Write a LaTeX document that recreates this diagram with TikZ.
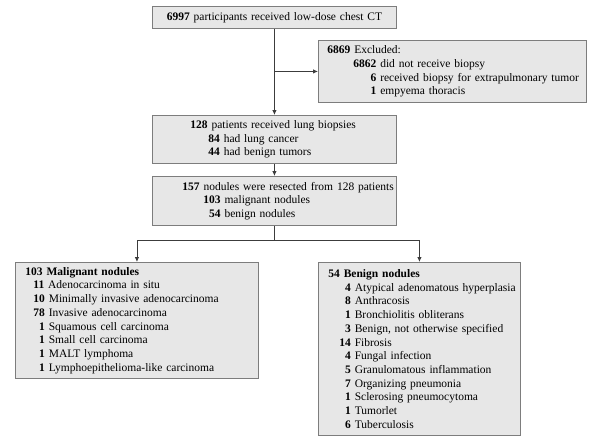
\documentclass[tikz,border=0pt]{standalone}
\usepackage{fontspec}
\setmainfont{Liberation Serif}
\usetikzlibrary{arrows.meta}
\definecolor{boxfill}{RGB}{231,231,231}
\definecolor{boxline}{RGB}{125,125,125}
\definecolor{conn}{RGB}{60,60,60}
\newcommand{\rowl}[2]{\mbox{\hspace*{#1}#2}}
\newcommand{\dg}{\hphantom{\textbf{0}}}
\begin{document}
\begin{tikzpicture}[x=1pt,y=-1pt,
  flowbox/.style={draw=boxline, fill=boxfill, line width=0.9pt, inner sep=0pt,
    align=left, font=\fontsize{11.5}{13.7}\selectfont, anchor=north west},
  conline/.style={draw=conn, line width=0.8pt},
  arr/.style={conline, -{Latex[length=5pt,width=4.5pt]}}]
\useasboundingbox (0,0) rectangle (595,445);

\node[flowbox, align=center, text width=244pt, minimum height=22pt] (top) at (152,6)
  {\textbf{6997} participants received low-dose chest CT};

\node[flowbox, text width=268pt, minimum height=62pt] (excl) at (318,40)
  {\rowl{9pt}{\textbf{6869} Excluded:}\\
   \rowl{35pt}{\textbf{6862} did not receive biopsy}\\
   \rowl{35pt}{\dg\dg\dg\textbf{6} received biopsy for extrapulmonary tumor}\\
   \rowl{35pt}{\dg\dg\dg\textbf{1} empyema thoracis}};

\node[flowbox, text width=244pt, minimum height=48pt] (b128) at (152,115)
  {\rowl{38pt}{\textbf{128} patients received lung biopsies}\\
   \rowl{56pt}{\textbf{84} had lung cancer}\\
   \rowl{56pt}{\textbf{44} had benign tumors}};

\node[flowbox, text width=244pt, minimum height=49pt] (b157) at (152,176)
  {\rowl{30pt}{\textbf{157} nodules were resected from 128 patients}\\
   \rowl{51pt}{\textbf{103} malignant nodules}\\
   \rowl{51pt}{\dg\textbf{54} benign nodules}};

\node[flowbox, text width=243pt, minimum height=116pt] (mal) at (15,262)
  {\rowl{10pt}{\textbf{103 Malignant nodules}}\\
   \rowl{18pt}{\textbf{11} Adenocarcinoma in situ}\\
   \rowl{18pt}{\textbf{10} Minimally invasive adenocarcinoma}\\
   \rowl{18pt}{\textbf{78} Invasive adenocarcinoma}\\
   \rowl{18pt}{\dg\textbf{1} Squamous cell carcinoma}\\
   \rowl{18pt}{\dg\textbf{1} Small cell carcinoma}\\
   \rowl{18pt}{\dg\textbf{1} MALT lymphoma}\\
   \rowl{18pt}{\dg\textbf{1} Lymphoepithelioma-like carcinoma}};

\node[flowbox, text width=202pt, minimum height=173pt] (ben) at (318,262)
  {\rowl{10pt}{\textbf{54 Benign nodules}}\\
   \rowl{21pt}{\dg\textbf{4} Atypical adenomatous hyperplasia}\\
   \rowl{21pt}{\dg\textbf{8} Anthracosis}\\
   \rowl{21pt}{\dg\textbf{1} Bronchiolitis obliterans}\\
   \rowl{21pt}{\dg\textbf{3} Benign, not otherwise specified}\\
   \rowl{21pt}{\textbf{14} Fibrosis}\\
   \rowl{21pt}{\dg\textbf{4} Fungal infection}\\
   \rowl{21pt}{\dg\textbf{5} Granulomatous inflammation}\\
   \rowl{21pt}{\dg\textbf{7} Organizing pneumonia}\\
   \rowl{21pt}{\dg\textbf{1} Sclerosing pneumocytoma}\\
   \rowl{21pt}{\dg\textbf{1} Tumorlet}\\
   \rowl{21pt}{\dg\textbf{6} Tuberculosis}};

\coordinate (split) at (b157.south |- 0,240);

\draw[arr] (top.south) -- (b128.north);
\draw[arr] (top.south |- excl.west) -- (excl.west);
\draw[arr] (b128.south) -- (b157.north);
\draw[conline] (b157.south) -- (split);
\draw[arr] (split) -| (mal.north);
\draw[arr] (split) -| (ben.north);
\end{tikzpicture}
\end{document}
